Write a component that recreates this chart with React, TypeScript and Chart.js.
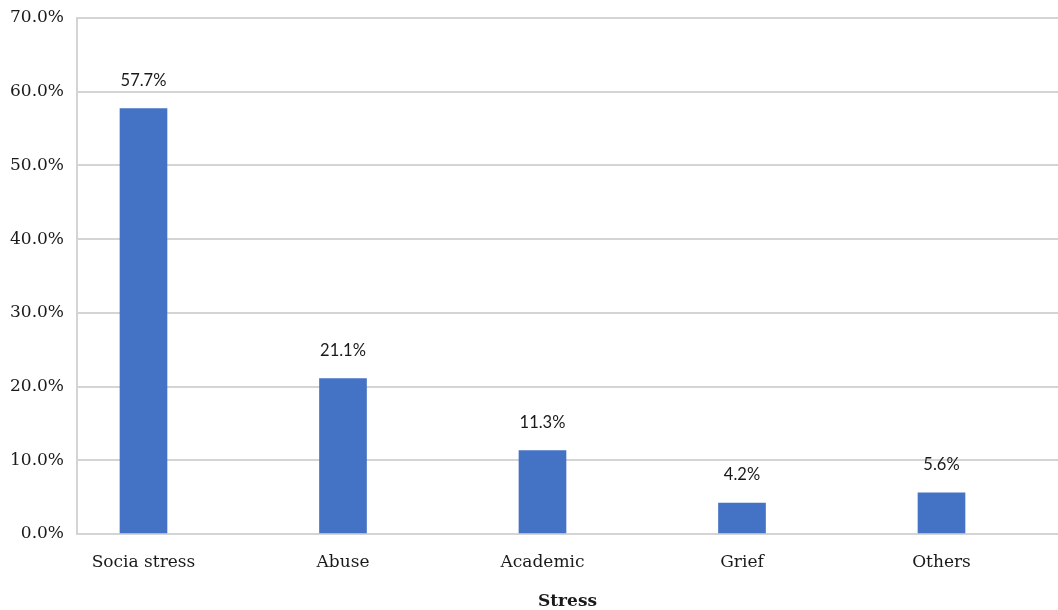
import React, { useEffect, useRef } from "react";
import { Chart, registerables } from "chart.js";

Chart.register(...registerables);

const categories: string[] = ["Socia stress", "Abuse", "Academic", "Grief", "Others"];
const values: number[] = [57.7, 21.1, 11.3, 4.2, 5.6];
const yTicks: number[] = [0, 10, 20, 30, 40, 50, 60, 70];
const axisTitle = "Stress";

const tickFont = { family: "'DejaVu Serif', serif", size: 17 };

const dataLabelPlugin = {
  id: "dataLabels",
  afterDatasetsDraw(chart: any) {
    const ctx = chart.ctx;
    const meta = chart.getDatasetMeta(0);
    ctx.save();
    ctx.font = "16.5px Lato, 'Liberation Sans', sans-serif";
    ctx.fillStyle = "#1a1a1a";
    ctx.textAlign = "center";
    ctx.textBaseline = "bottom";
    meta.data.forEach((el: any, i: number) => {
      ctx.fillText(values[i].toFixed(1) + "%", el.x, el.y - 20);
    });
    ctx.restore();
  },
};

export default function App() {
  const canvasRef = useRef<HTMLCanvasElement | null>(null);

  useEffect(() => {
    if (!canvasRef.current) return;
    const chart = new Chart(canvasRef.current, {
      type: "bar",
      data: {
        datasets: [
          {
            data: values.map((v, i) => ({ x: i, y: v })),
            backgroundColor: "#4472C4",
            barThickness: 47,
          },
        ],
      },
      options: {
        animation: false,
        responsive: true,
        maintainAspectRatio: false,
        layout: { padding: { top: 18, left: 0, right: 0, bottom: 0 } },
        plugins: {
          legend: { display: false },
          tooltip: { enabled: false },
        },
        scales: {
          x: {
            type: "linear",
            offset: false,
            min: -0.3333,
            max: 4.584,
            afterBuildTicks(scale: any) {
              scale.ticks = categories.map((_, i) => ({ value: i }));
            },
            afterFit(scale: any) {
              scale.height = 76;
            },
            grid: { display: false, drawTicks: false, offset: false },
            border: { display: true, color: "#d4d4d4", width: 2 },
            ticks: {
              padding: 18,
              color: "#1a1a1a",
              font: tickFont,
              maxRotation: 0,
              autoSkip: false,
              callback: (v: any) => {
                const idx = Math.round(Number(v));
                return categories[idx] ?? "";
              },
            },
            title: {
              display: true,
              text: axisTitle,
              color: "#1a1a1a",
              font: { family: "'DejaVu Serif', serif", size: 17, weight: "bold", lineHeight: 1 },
              padding: { top: 0, bottom: 0 },
            },
          },
          y: {
            min: 0,
            max: 70,
            afterBuildTicks(scale: any) {
              scale.ticks = yTicks.map((v) => ({ value: v }));
            },
            afterFit(scale: any) {
              scale.width = 77;
              scale.paddingTop = 0;
              scale.paddingBottom = 0;
            },
            grid: { color: "#d4d4d4", lineWidth: 2, drawTicks: false },
            border: { display: true, color: "#d4d4d4", width: 2 },
            ticks: {
              padding: 13,
              color: "#1a1a1a",
              font: tickFont,
              callback: (v: any) => Number(v).toFixed(1) + "%",
            },
          },
        },
      },
      plugins: [dataLabelPlugin],
    });
    return () => chart.destroy();
  }, []);

  return (
    <div style={{ position: "fixed", left: 0, top: 0, width: 1058, height: 610, background: "#fff" }}>
      <canvas ref={canvasRef} />
    </div>
  );
}
